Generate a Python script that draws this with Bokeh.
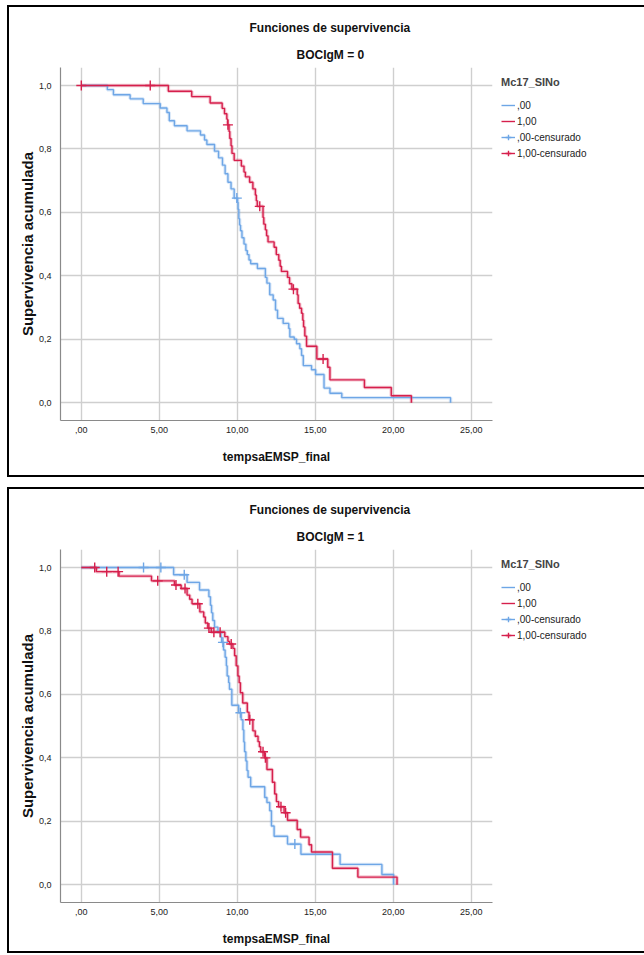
from bokeh.plotting import figure
from bokeh.models import Range1d, FixedTicker, Legend, LegendItem, Title
from bokeh.layouts import column
from bokeh.embed import file_html
from bokeh.resources import INLINE

# ---------------- data ----------------
x_ticks = [0, 5, 10, 15, 20, 25]
x_tick_labels = [",00", "5,00", "10,00", "15,00", "20,00", "25,00"]
y_ticks = [0.0, 0.2, 0.4, 0.6, 0.8, 1.0]
y_tick_labels = ["0,0", "0,2", "0,4", "0,6", "0,8", "1,0"]

series_labels = [",00", "1,00", ",00-censurado", "1,00-censurado"]
panel_titles = ["BOCIgM = 0", "BOCIgM = 1"]

# Panel BOCIgM = 0, group ,00 (blue)
g0_blue_t = [0, 1.67, 2.06, 3.13, 3.97, 5.06, 5.49, 5.64, 5.97, 6.78, 7.64, 7.9, 8.05, 8.54, 8.8,
             9.05, 9.22, 9.4, 9.6, 9.8, 10.02, 10.05, 10.1, 10.15, 10.21, 10.3, 10.43, 10.55, 10.64, 10.75,
             10.86, 11.29, 11.8, 11.9, 12.08, 12.3, 12.45, 12.58, 12.94, 13.3, 13.37, 13.65, 13.8, 14.01, 14.12,
             14.23, 14.76, 15.02, 15.56, 15.94, 16.7, 23.67]
g0_blue_s = [1.0, 0.987, 0.971, 0.958, 0.943, 0.929, 0.915, 0.889, 0.873, 0.857, 0.844, 0.828, 0.814, 0.793, 0.772,
             0.749, 0.722, 0.695, 0.674, 0.645, 0.632, 0.61, 0.58, 0.56, 0.542, 0.52, 0.5, 0.48, 0.467, 0.45,
             0.438, 0.423, 0.395, 0.377, 0.34, 0.324, 0.292, 0.266, 0.25, 0.234, 0.207, 0.2, 0.186, 0.17, 0.149,
             0.117, 0.104, 0.089, 0.046, 0.03, 0.016, 0.0]
g0_blue_cens_t = [9.97]
g0_blue_cens_s = [0.645]

# Panel BOCIgM = 0, group 1,00 (red)
g0_red_t = [0, 5.58, 7.08, 8.26, 9.03, 9.18, 9.33, 9.38, 9.47, 9.52, 9.6, 9.66, 9.8, 10.26, 10.43,
            10.52, 10.79, 11.0, 11.16, 11.22, 11.28, 11.65, 11.7, 11.8, 11.88, 11.97, 12.36, 12.5, 12.66, 12.75,
            12.83, 13.22, 13.35, 13.5, 13.84, 13.9, 14.0, 14.12, 14.2, 14.25, 14.33, 14.44, 15.1, 15.8, 15.94,
            18.15, 19.87, 21.16]
g0_red_s = [1.0, 0.982, 0.965, 0.945, 0.928, 0.911, 0.894, 0.876, 0.855, 0.833, 0.81, 0.786, 0.764, 0.746, 0.727,
            0.712, 0.695, 0.674, 0.655, 0.637, 0.619, 0.584, 0.563, 0.545, 0.526, 0.507, 0.49, 0.467, 0.449, 0.43,
            0.414, 0.395, 0.375, 0.358, 0.34, 0.313, 0.298, 0.282, 0.26, 0.239, 0.21, 0.178, 0.138, 0.112, 0.072,
            0.048, 0.022, 0.0]
g0_red_cens_t = [0.0, 4.42, 9.4, 11.44, 13.6, 15.5]
g0_red_cens_s = [1.0, 1.0, 0.876, 0.619, 0.358, 0.138]

# Panel BOCIgM = 1, group ,00 (blue)
g1_blue_t = [0, 5.92, 6.78, 7.58, 8.18, 8.28, 8.35, 8.43, 8.54, 8.76, 8.95, 9.0, 9.12, 9.22, 9.3,
             9.35, 9.45, 9.5, 9.65, 10.09, 10.25, 10.36, 10.42, 10.47, 10.55, 10.62, 10.69, 10.86, 11.76, 11.9,
             12.08, 12.19, 12.36, 13.22, 14.08, 16.59, 19.27, 20.02]
g1_blue_s = [1.0, 0.977, 0.953, 0.929, 0.908, 0.881, 0.857, 0.833, 0.812, 0.796, 0.78, 0.764, 0.74, 0.717, 0.69,
             0.658, 0.637, 0.616, 0.566, 0.542, 0.52, 0.488, 0.45, 0.419, 0.39, 0.36, 0.339, 0.309, 0.275, 0.259,
             0.233, 0.185, 0.153, 0.128, 0.096, 0.064, 0.032, 0.0]
g1_blue_cens_t = [3.99, 5.1, 6.6, 9.08, 10.2, 13.69]
g1_blue_cens_s = [1.0, 1.0, 0.977, 0.764, 0.542, 0.128]

# Panel BOCIgM = 1, group 1,00 (red)
g1_red_t = [0, 0.97, 2.42, 4.5, 5.97, 6.4, 6.78, 6.95, 7.1, 7.6, 7.85, 7.95, 8.11, 8.33, 9.2,
            9.4, 9.5, 9.72, 9.83, 9.93, 10.04, 10.12, 10.2, 10.35, 10.64, 10.75, 11.0, 11.15, 11.33, 11.42,
            11.5, 11.75, 11.9, 12.25, 12.4, 12.51, 12.65, 13.0, 13.22, 13.84, 14.06, 14.6, 14.76, 16.1, 17.73,
            20.24]
g1_red_s = [1.0, 0.987, 0.973, 0.958, 0.945, 0.934, 0.913, 0.9, 0.886, 0.86, 0.844, 0.825, 0.809, 0.796, 0.782,
            0.767, 0.759, 0.745, 0.722, 0.69, 0.658, 0.637, 0.605, 0.573, 0.544, 0.52, 0.485, 0.468, 0.451, 0.435,
            0.419, 0.4, 0.363, 0.323, 0.286, 0.262, 0.246, 0.227, 0.203, 0.174, 0.15, 0.126, 0.103, 0.052, 0.024,
            0.0]
g1_red_cens_t = [0.86, 1.63, 2.36, 4.9, 6.07, 6.65, 7.47, 8.18, 8.5, 8.9, 9.61, 10.8, 11.65, 11.8, 12.8, 13.1]
g1_red_cens_s = [1.0, 0.987, 0.987, 0.958, 0.945, 0.934, 0.886, 0.809, 0.796, 0.796, 0.759, 0.52, 0.419, 0.4,
                 0.246, 0.227]

# ---------------- styling ----------------
BLUE = "#6ea6e6"
RED = "#d61f4c"
GRID = "#cfcfcf"
AXIS = "#8a8a8a"
FONT = "Liberation Sans"

X_MIN, X_MAX = -1.333, 26.36
Y_MIN, Y_MAX = -0.0561, 1.0568


def make_panel(title2, bt, bs, bct, bcs, rt, rs, rct, rcs, bottom_border, top_margin):
    p = figure(frame_width=430, frame_height=349,
               x_range=Range1d(X_MIN, X_MAX), y_range=Range1d(Y_MIN, Y_MAX),
               output_backend="svg", toolbar_location=None,
               min_border_left=51, min_border_right=154,
               min_border_top=60, min_border_bottom=bottom_border)
    p.outline_line_color = None
    p.background_fill_color = "white"
    p.border_fill_color = "white"

    # grid
    p.xgrid.ticker = FixedTicker(ticks=x_ticks)
    p.ygrid.ticker = FixedTicker(ticks=y_ticks)
    for g in (p.xgrid, p.ygrid):
        g.grid_line_color = GRID
        g.grid_line_width = 1.4

    # axes
    p.xaxis.ticker = FixedTicker(ticks=x_ticks)
    p.yaxis.ticker = FixedTicker(ticks=y_ticks)
    p.xaxis.major_label_overrides = dict(zip(x_ticks, x_tick_labels))
    p.yaxis.major_label_overrides = dict(zip(y_ticks, y_tick_labels))
    for ax in (p.xaxis[0], p.yaxis[0]):
        ax.axis_line_color = AXIS
        ax.axis_line_width = 1.2
        ax.major_tick_line_color = None
        ax.minor_tick_line_color = None
        ax.major_label_text_font = FONT
        ax.major_label_text_font_size = "9px"
        ax.major_label_text_color = "#222222"
        ax.axis_label_text_color = "#111111"
        ax.axis_label_text_font = FONT
        ax.axis_label_text_font_style = "bold"
    p.xaxis.major_label_standoff = 0
    p.yaxis.major_label_standoff = 3
    p.xaxis.axis_label = "tempsaEMSP_final"
    p.xaxis.axis_label_text_font_size = "12px"
    p.xaxis.axis_label_standoff = 14

    # halos (soft edge like the reference)
    p.step(bt, bs, mode="after", line_color=BLUE, line_width=3.5, line_alpha=0.25)
    p.step(rt, rs, mode="after", line_color=RED, line_width=3.5, line_alpha=0.25)
    # survival curves
    b_step = p.step(bt, bs, mode="after", line_color=BLUE, line_width=1.4)
    r_step = p.step(rt, rs, mode="after", line_color=RED, line_width=1.4)
    b_cens = p.scatter(bct, bcs, marker="cross", size=10, line_color=BLUE, line_width=1.4)
    r_cens = p.scatter(rct, rcs, marker="cross", size=10, line_color=RED, line_width=1.4)

    legend = Legend(items=[
        LegendItem(label=series_labels[0], renderers=[b_step]),
        LegendItem(label=series_labels[1], renderers=[r_step]),
        LegendItem(label=series_labels[2], renderers=[b_step, b_cens]),
        LegendItem(label=series_labels[3], renderers=[r_step, r_cens]),
    ], location="top_left", title="Mc17_SINo")
    legend.margin = 9
    legend.padding = 19
    legend.border_line_color = None
    legend.background_fill_alpha = 0
    legend.title_text_font = FONT
    legend.title_text_font_style = "bold"
    legend.title_text_font_size = "11px"
    legend.title_text_baseline = "top"
    legend.title_standoff = 10
    legend.label_text_font = FONT
    legend.label_text_font_size = "10px"
    legend.label_text_color = "#222222"
    legend.label_height = 14
    legend.glyph_height = 14
    legend.glyph_width = 14
    legend.label_standoff = 2
    legend.spacing = 2
    p.add_layout(legend, "right")

    # vertical axis title as a rotated title in the left panel (outside the y axis)
    p.add_layout(Title(text="Supervivencia acumulada", align="center", standoff=0,
                       text_font=FONT, text_font_style="bold", text_font_size="15px",
                       text_color="#111111"), "left")

    # titles (first added sits nearest the frame)
    p.add_layout(Title(text=title2, align="left", offset=236, standoff=12,
                       text_font=FONT, text_font_style="bold", text_font_size="12px",
                       text_color="#111111"), "above")
    p.add_layout(Title(text="Funciones de supervivencia", align="left", offset=189, standoff=10,
                       text_font=FONT, text_font_style="bold", text_font_size="12px",
                       text_color="#111111"), "above")

    p.styles = {"box-sizing": "content-box",
                "border-top": "2px solid #000", "border-left": "2px solid #000",
                "border-bottom": "2px solid #000"}
    p.margin = (top_margin, 0, 0, 7)
    return p


p1 = make_panel(panel_titles[0], g0_blue_t, g0_blue_s, g0_blue_cens_t, g0_blue_cens_s,
                g0_red_t, g0_red_s, g0_red_cens_t, g0_red_cens_s, 59, 5)
p2 = make_panel(panel_titles[1], g1_blue_t, g1_blue_s, g1_blue_cens_t, g1_blue_cens_s,
                g1_red_t, g1_red_s, g1_red_cens_t, g1_red_cens_s, 53, 10)

layout = column(p1, p2, spacing=0)
open("out.html", "w").write(file_html(layout, INLINE))
